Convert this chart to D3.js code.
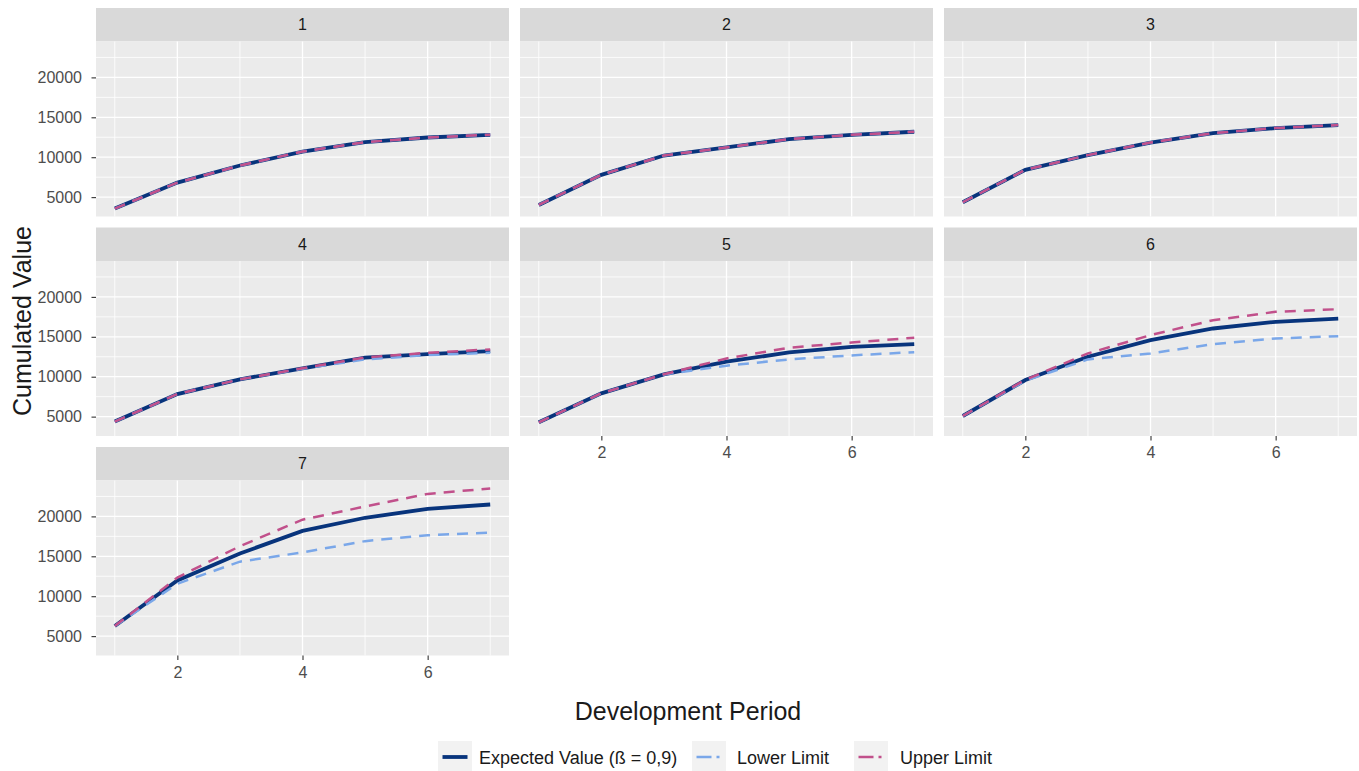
<!DOCTYPE html>
<html>
<head>
<meta charset="utf-8">
<script src="https://cdn.jsdelivr.net/npm/d3@7"></script>
<style>
  html, body { margin: 0; padding: 0; background: #ffffff; }
  svg { display: block; font-family: "Liberation Sans", Arial, sans-serif; }
</style>
</head>
<body>
<div id="chart"></div>
<script>
// Data
const periods = [1, 2, 3, 4, 5, 6, 7];
const origins = ["1", "2", "3", "4", "5", "6", "7"];

const expectedValues = [
  [3570, 6820, 8960, 10710, 11890, 12470, 12810],
  [4020, 7790, 10210, 11220, 12270, 12810, 13190],
  [4360, 8420, 10260, 11840, 13020, 13650, 14030],
  [4380, 7830, 9670, 11040, 12400, 12830, 13210],
  [4290, 7920, 10290, 11880, 13040, 13750, 14080],
  [5080, 9580, 12500, 14580, 16040, 16880, 17290],
  [6260, 11970, 15360, 18180, 19830, 20950, 21490]
];
const lowerLimits = [
  [3570, 6820, 8960, 10710, 11890, 12470, 12810],
  [4020, 7790, 10210, 11220, 12270, 12810, 13190],
  [4360, 8420, 10260, 11840, 13020, 13650, 14030],
  [4380, 7830, 9670, 11000, 12170, 12710, 13000],
  [4290, 7920, 10290, 11380, 12170, 12670, 13080],
  [5080, 9500, 12170, 12920, 14080, 14790, 15080],
  [6260, 11560, 14330, 15490, 16900, 17640, 17970]
];
const upperLimits = [
  [3570, 6820, 8960, 10710, 11890, 12470, 12810],
  [4020, 7790, 10210, 11220, 12270, 12810, 13190],
  [4360, 8420, 10260, 11840, 13020, 13650, 14030],
  [4380, 7830, 9670, 11060, 12420, 13000, 13420],
  [4290, 7920, 10300, 12290, 13630, 14290, 14880],
  [5080, 9620, 12920, 15210, 17080, 18130, 18460],
  [6260, 12340, 16270, 19590, 21240, 22820, 23500]
];

const yTicks = [5000, 10000, 15000, 20000];
const yMinor = [7500, 12500, 17500, 22500];
const xTicks = [2, 4, 6];
const xMinor = [1, 3, 5, 7];
const legendLabels = ["Expected Value (ß = 0,9)", "Lower Limit", "Upper Limit"];

// Layout
const W = 1359, H = 771;
const colLeft = 96, colPitch = 424, panelW = 413;
const rowTop = 8, rowPitch = 219.5, stripH = 33.5, plotH = 175;
const ncol = 3;

const colors = { expected: "#08347c", lower: "#7aa7e9", upper: "#c1508b" };

const svg = d3.select("#chart").append("svg")
  .attr("width", W).attr("height", H);

// Scales (shared, ggplot-like 5% / 0.3 expansion)
const allVals = [].concat(...expectedValues, ...lowerLimits, ...upperLimits);
const yLo = d3.min(allVals), yHi = d3.max(allVals), yR = yHi - yLo;
const y = d3.scaleLinear().domain([yLo - 0.05 * yR, yHi + 0.05 * yR]).range([plotH, 0]);
const x = d3.scaleLinear().domain([0.7, 7.3]).range([0, panelW]);

const line = d3.line().x((d, i) => x(periods[i])).y(d => y(d));

origins.forEach((name, k) => {
  const col = k % ncol, row = Math.floor(k / ncol);
  const px = colLeft + col * colPitch;
  const py = rowTop + row * rowPitch;

  const g = svg.append("g").attr("transform", `translate(${px},${py})`);

  // strip
  g.append("rect").attr("width", panelW).attr("height", stripH).attr("fill", "#d9d9d9");
  g.append("text")
    .attr("x", panelW / 2).attr("y", stripH / 2 + 5.5)
    .attr("text-anchor", "middle")
    .attr("font-size", "16px").attr("fill", "#1a1a1a")
    .text(name);

  const p = g.append("g").attr("transform", `translate(0,${stripH})`);
  p.append("rect").attr("width", panelW).attr("height", plotH).attr("fill", "#ebebeb");

  // grid
  p.selectAll(".ymin").data(yMinor).enter().append("line")
    .attr("x1", 0).attr("x2", panelW).attr("y1", d => y(d)).attr("y2", d => y(d))
    .attr("stroke", "#ffffff").attr("stroke-width", 0.8);
  p.selectAll(".xmin").data(xMinor).enter().append("line")
    .attr("y1", 0).attr("y2", plotH).attr("x1", d => x(d)).attr("x2", d => x(d))
    .attr("stroke", "#ffffff").attr("stroke-width", 0.8);
  p.selectAll(".ymaj").data(yTicks).enter().append("line")
    .attr("x1", 0).attr("x2", panelW).attr("y1", d => y(d)).attr("y2", d => y(d))
    .attr("stroke", "#ffffff").attr("stroke-width", 1.3);
  p.selectAll(".xmaj").data(xTicks).enter().append("line")
    .attr("y1", 0).attr("y2", plotH).attr("x1", d => x(d)).attr("x2", d => x(d))
    .attr("stroke", "#ffffff").attr("stroke-width", 1.3);

  // lines
  p.append("path").attr("d", line(expectedValues[k]))
    .attr("fill", "none").attr("stroke", colors.expected).attr("stroke-width", 3.8);
  p.append("path").attr("d", line(lowerLimits[k]))
    .attr("fill", "none").attr("stroke", colors.lower).attr("stroke-width", 2.5)
    .attr("stroke-dasharray", "11,8");
  p.append("path").attr("d", line(upperLimits[k]))
    .attr("fill", "none").attr("stroke", colors.upper).attr("stroke-width", 2.5)
    .attr("stroke-dasharray", "11,8");

  // y axis on first column
  if (col === 0) {
    const ya = p.append("g")
      .call(d3.axisLeft(y).tickValues(yTicks).tickSize(4.5).tickPadding(9.5).tickFormat(d3.format("d")));
    ya.select(".domain").remove();
    ya.selectAll(".tick line").attr("stroke", "#333333").attr("stroke-width", 1.1);
    ya.selectAll("text").attr("fill", "#4d4d4d").attr("font-size", "16px")
      .attr("font-family", "'Liberation Sans', Arial, sans-serif");
  }
  // x axis where no panel below
  if (k + ncol >= origins.length) {
    const xa = p.append("g").attr("transform", `translate(0,${plotH})`)
      .call(d3.axisBottom(x).tickValues(xTicks).tickSize(4.5).tickPadding(6.5).tickFormat(d3.format("d")));
    xa.select(".domain").remove();
    xa.selectAll(".tick line").attr("stroke", "#333333").attr("stroke-width", 1.1);
    xa.selectAll("text").attr("fill", "#4d4d4d").attr("font-size", "16px")
      .attr("font-family", "'Liberation Sans', Arial, sans-serif");
  }
});

// axis titles
svg.append("text")
  .attr("x", 688).attr("y", 720)
  .attr("text-anchor", "middle").attr("font-size", "25px").attr("fill", "#1a1a1a")
  .text("Development Period");

svg.append("text")
  .attr("transform", "translate(31,321) rotate(-90)")
  .attr("text-anchor", "middle").attr("font-size", "25px").attr("fill", "#1a1a1a")
  .text("Cumulated Value");

// legend
const legendKeys = [
  { key: "expected", boxX: 438, textX: 479, dash: null, width: 3.8 },
  { key: "lower", boxX: 692, textX: 737, dash: "15,5,3,10", width: 2.5 },
  { key: "upper", boxX: 854, textX: 900, dash: "15,5,3,10", width: 2.5 }
];
const legY = 741, keyW = 34, keyH = 32;

const lg = svg.append("g");
legendKeys.forEach((d, i) => {
  lg.append("rect").attr("x", d.boxX).attr("y", legY).attr("width", keyW).attr("height", keyH)
    .attr("fill", "#f2f2f2");
  const ln = lg.append("line")
    .attr("x1", d.boxX + 4.5).attr("x2", d.boxX + keyW - 4.5)
    .attr("y1", legY + keyH / 2).attr("y2", legY + keyH / 2)
    .attr("stroke", colors[d.key]).attr("stroke-width", d.width);
  if (d.dash) ln.attr("stroke-dasharray", d.dash);
  lg.append("text")
    .attr("x", d.textX).attr("y", legY + keyH / 2 + 6.5)
    .attr("font-size", "18px").attr("fill", "#1a1a1a")
    .text(legendLabels[i]);
});
</script>
</body>
</html>
